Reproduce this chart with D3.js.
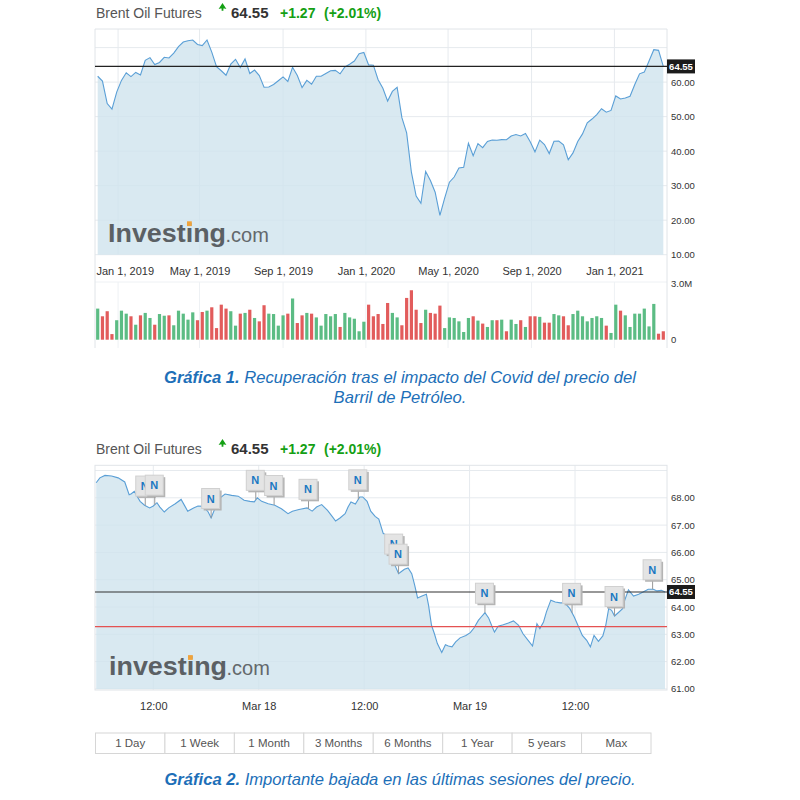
<!DOCTYPE html>
<html>
<head>
<meta charset="utf-8">
<script src="https://cdn.jsdelivr.net/npm/d3@7"></script>
<style>
  body { margin: 0; background: #fff; }
  svg { display: block; }
  text { font-family: "Liberation Sans", Arial, sans-serif; }
</style>
</head>
<body>
<svg width="800" height="800"></svg>
<script>
// ---- quote ----
const lastPrice = 64.55
const change = 1.27
const changePct = 2.01
const prevClose = 63.28

// ---- chart 1: weekly closes, Sunday-dated weeks ----
const weekStart = "2018-12-02"
const weeklyClose = [
  61.7, 60.3, 53.8, 52.2, 57.1, 60.5, 62.7, 61.6, 62.8, 62.1,
  66.3, 67.1, 65.1, 65.7, 67.2, 67.0, 68.4, 70.3, 71.6, 72.0,
  72.2, 70.9, 70.6, 72.2, 68.7, 64.5, 63.3, 62.0, 65.2, 66.6,
  64.2, 66.7, 62.5, 63.5, 61.9, 58.5, 58.6, 59.3, 60.4, 61.5,
  60.2, 64.3, 61.9, 58.4, 60.5, 59.4, 61.7, 61.7, 62.5, 63.3,
  63.4, 62.4, 64.4, 65.2, 66.1, 68.2, 68.6, 65.0, 64.9, 60.7,
  58.2, 54.5, 57.3, 58.5, 49.7, 45.3, 33.9, 27.0, 24.9, 34.1,
  31.5, 28.1, 21.4, 26.4, 31.0, 32.5, 35.1, 35.3, 42.3, 38.7,
  42.2, 41.0, 42.8, 43.24, 43.14, 43.34, 43.3, 44.4, 44.8, 44.4,
  45.1, 42.7, 39.8, 43.2, 41.9, 39.3, 42.85, 42.93, 41.8, 37.5,
  39.5, 42.8, 45.0, 48.2, 49.3, 50.6, 52.3, 51.3, 51.8, 56.0,
  55.1, 55.4, 55.9, 59.3, 62.4, 62.9, 66.1, 69.4, 69.2, 64.55
]
// volume in millions
const weeklyVolume = [
  1.66, 1.25, 1.52, 0.30, 1.04, 1.55, 1.39, 1.25, 0.80, 1.30,
  1.43, 1.16, 0.80, 1.37, 1.28, 1.30, 0.77, 1.55, 1.39, 1.07,
  1.46, 1.04, 1.48, 1.55, 1.73, 0.62, 1.87, 1.66, 1.52, 0.75,
  1.39, 1.43, 1.60, 1.16, 0.98, 1.84, 1.39, 1.37, 0.75, 1.30,
  1.39, 2.20, 0.89, 1.30, 1.43, 1.39, 1.19, 0.75, 1.37, 1.25,
  1.37, 0.68, 1.43, 1.19, 1.12, 0.45, 0.96, 1.87, 1.25, 1.37,
  0.84, 1.96, 1.43, 1.19, 0.77, 2.23, 2.64, 1.60, 0.89, 1.60,
  1.43, 1.39, 1.82, 0.62, 1.19, 1.16, 0.98, 0.41, 1.16, 1.25,
  1.02, 0.86, 0.68, 1.04, 1.04, 1.07, 0.45, 1.07, 0.84, 1.04,
  0.68, 1.25, 1.25, 1.22, 0.91, 0.91, 1.37, 1.30, 1.25, 0.77,
  1.37, 1.55, 1.25, 0.98, 1.16, 1.25, 1.16, 0.75, 0.36, 1.87,
  1.55, 1.30, 0.68, 1.39, 1.39, 1.66, 0.71, 1.91, 0.32, 0.45
]
const dateTicks1 = ["2019-01-01", "2019-05-01", "2019-09-01", "2020-01-01", "2020-05-01", "2020-09-01", "2021-01-01"]
const priceTicks1 = [10, 20, 30, 40, 50, 60]
const priceGrid1 = [10, 20, 30, 40, 50, 60, 70]
const volTicks = [0, 3]

// ---- chart 2: intraday, March 2021 (day hh:mm) ----
const dayTimes = [
  "17 05:30","17 05:55","17 06:30","17 07:15","17 08:00","17 08:45","17 09:15","17 09:30","17 09:50","17 10:05",
  "17 10:30","17 11:00","17 11:35","17 12:00","17 12:25","17 12:45","17 13:15","17 13:45","17 14:30","17 15:10",
  "17 15:30","17 15:55","17 16:35","17 17:05","17 17:40","17 18:15","17 18:35","17 19:00","17 19:30","17 20:10",
  "17 20:55","17 21:40","17 22:20","17 23:00","17 23:30","17 23:50","18 00:20","18 01:05","18 01:50","18 02:35",
  "18 03:20","18 03:50","18 04:35","18 05:30","18 06:05","18 06:35","18 07:10","18 07:50","18 08:20","18 08:45",
  "18 09:15","18 09:50","18 10:10","18 10:30","18 11:00","18 11:30","18 11:50","18 12:20","18 12:45","18 13:15",
  "18 13:40","18 14:10","18 14:40","18 14:55","18 15:10","18 15:35","18 15:55","18 16:10","18 16:35","18 17:00",
  "18 17:25","18 17:45","18 18:05","18 18:35","18 19:05","18 19:20","18 19:40","18 20:00","18 20:20","18 20:50",
  "18 21:15","18 21:35","18 22:00","18 22:25","18 22:55","18 23:35","19 00:05","19 00:30","19 01:00","19 01:25",
  "19 01:45","19 02:10","19 02:30","19 02:50","19 03:15","19 03:50","19 04:25","19 05:00","19 05:35","19 06:05",
  "19 06:40","19 07:10","19 07:40","19 08:00","19 08:25","19 08:45","19 09:15","19 09:45","19 10:20","19 10:50",
  "19 11:25","19 11:55","19 12:25","19 12:50","19 13:20","19 13:45","19 14:10","19 14:40","19 15:10","19 15:30",
  "19 15:50","19 16:10","19 16:30","19 16:55","19 17:25","19 17:40","19 18:05","19 18:40","19 19:15","19 19:45",
  "19 20:20","19 20:55","19 21:20","19 21:50","19 22:15"
]
const dayPrices = [
  68.55, 68.73, 68.82, 68.80, 68.73, 68.58, 68.11, 68.15, 68.24, 68.09,
  67.87, 67.73, 67.63, 67.70, 67.82, 67.66, 67.48, 67.63, 67.78, 67.94,
  67.75, 67.51, 67.63, 67.70, 67.69, 67.48, 67.26, 67.60, 67.97, 68.14,
  68.09, 68.06, 67.91, 67.87, 67.85, 68.00, 67.87, 67.78, 67.73, 67.60,
  67.42, 67.51, 67.57, 67.63, 67.51, 67.66, 67.75, 67.54, 67.33, 67.15,
  67.26, 67.42, 67.66, 67.85, 67.77, 68.03, 68.03, 67.87, 67.51, 67.32,
  67.22, 66.70, 66.60, 66.26, 65.77, 65.47, 65.22, 65.28, 65.38, 65.43,
  65.22, 64.80, 64.33, 64.40, 64.47, 64.06, 63.33, 63.02, 62.66, 62.33,
  62.62, 62.57, 62.54, 62.72, 62.87, 62.96, 63.06, 63.23, 63.51, 63.67,
  63.79, 63.60, 63.33, 63.08, 63.30, 63.35, 63.41, 63.49, 63.33, 63.02,
  62.78, 62.57, 63.39, 63.21, 63.45, 63.82, 64.25, 64.18, 64.15, 64.15,
  63.94, 63.63, 63.27, 62.96, 62.78, 62.54, 62.96, 62.74, 62.94, 63.33,
  63.94, 63.88, 63.67, 63.79, 63.94, 64.25, 64.63, 64.40, 64.47, 64.55,
  64.65, 64.65, 64.59, 64.61, 64.55
]
const newsTimes = ["17 11:05","17 12:10","17 18:35","17 23:40","18 01:45","18 05:40","18 11:20","18 15:25","18 15:55","19 01:45","19 11:40","19 16:30","19 20:50"]
const timeTicks2 = ["17 12:00", "18 00:00", "18 12:00", "19 00:00", "19 12:00"]
const priceTicks2 = [61, 62, 63, 64, 65, 66, 67, 68]
const priceGrid2 = [61, 62, 63, 64, 65, 66, 67, 68, 69]
const ranges = ["1 Day", "1 Week", "1 Month", "3 Months", "6 Months", "1 Year", "5 years", "Max"]

// ---- captions ----
const caption1 = ["Gráfica 1.", "Recuperación tras el impacto del Covid del precio del", "Barril de Petróleo."]
const caption2 = ["Gráfica 2.", "Importante bajada en las últimas sesiones del precio."]

const svg = d3.select("svg")
const FONT = '"Liberation Sans", Arial, sans-serif'
const GREEN = "#14a014"
const LINE = "#5a9fd6"
const FILL = "rgb(207,227,237)"
const GRID = "#e6eaee"
const BORDER = "#e0e4e8"
const BLUE = "#1d6fb8"

function header(y) {
  svg.append("text").attr("x", 96).attr("y", y).attr("font-size", 14).attr("fill", "#555").text("Brent Oil Futures")
  svg.append("path")
    .attr("d", `M218.6,${y-8.4} L222.5,${y-14.4} L226.4,${y-8.4} Q222.5,${y-10.2} 218.6,${y-8.4} Z M221.6,${y-9.8} h1.8 v3 h-1.8 Z`)
    .attr("fill", GREEN)
  svg.append("text").attr("x", 231).attr("y", y).attr("font-size", 15).attr("font-weight", "bold")
    .attr("fill", "#333").text(lastPrice.toFixed(2))
  svg.append("text").attr("x", 280).attr("y", y).attr("font-size", 14).attr("font-weight", "bold")
    .attr("fill", GREEN).text("+" + change.toFixed(2))
  svg.append("text").attr("x", 324).attr("y", y).attr("font-size", 14).attr("font-weight", "bold")
    .attr("fill", GREEN).text(`(+${changePct.toFixed(2)}%)`)
}

function priceTag(y) {
  svg.append("rect").attr("x", 667).attr("y", y - 7).attr("width", 28).attr("height", 14).attr("fill", "#1b1b1b")
  svg.append("text").attr("x", 681).attr("y", y + 3.4).attr("text-anchor", "middle")
    .attr("font-size", 9.5).attr("font-weight", "bold").attr("fill", "#fff").text(lastPrice.toFixed(2))
}

function yAxis(scale, ticks, fmt) {
  const g = svg.append("g").attr("transform", "translate(668,0)")
    .call(d3.axisRight(scale).tickValues(ticks).tickFormat(fmt).tickSize(0).tickPadding(3))
  g.select(".domain").remove()
  g.selectAll("text").attr("font-size", 9.5).attr("fill", "#333").attr("font-family", FONT)
}

// the investing.com logo sits on top of the area fill
function watermark(x, y, word) {
  const t = svg.append("text").attr("x", x).attr("y", y).attr("font-size", 26).attr("font-weight", "bold")
    .attr("fill", "#5b6064").attr("textLength", 118).attr("lengthAdjust", "spacingAndGlyphs").text(word)
  svg.append("text").attr("x", x + 117.5).attr("y", y).attr("font-size", 20).attr("fill", "#63686c").text(".com")
  const box = t.node().getExtentOfChar(word.lastIndexOf("i"))
  svg.append("rect").attr("x", box.x + box.width / 2 - 2.4).attr("y", y - 20.2)
    .attr("width", 4.8).attr("height", 4.8).attr("fill", "#f0a33c")
}

// ================= CHART 1 =================
const parseDay = d3.timeParse("%Y-%m-%d")
const w0 = parseDay(weekStart)
const weeks = weeklyClose.map((c, i) => ({
  date: d3.timeWeek.offset(w0, i),
  close: c,
  vol: weeklyVolume[i],
  up: i === 0 || c >= weeklyClose[i - 1]
}))

const x1 = d3.scaleTime().domain([weeks[0].date, weeks[weeks.length - 1].date]).range([97.7, 663.3])
const y1 = d3.scaleLinear().domain([10, 70]).range([254.7, 47.6])
const v1 = d3.scaleLinear().domain([0, 3]).range([339.7, 283.5])
const ticks1 = dateTicks1.map(parseDay)

header(17.5)

// frame + grid
const g1 = svg.append("g")
g1.selectAll(".hg").data(priceGrid1).join("line")
  .attr("x1", 95).attr("x2", 667).attr("y1", d => y1(d)).attr("y2", d => y1(d)).attr("stroke", GRID)
g1.selectAll(".vg").data(ticks1).join("line")
  .attr("x1", d => x1(d)).attr("x2", d => x1(d)).attr("y1", 29).attr("y2", 255).attr("stroke", GRID)
g1.selectAll(".vv").data(ticks1).join("line")
  .attr("x1", d => x1(d)).attr("x2", d => x1(d)).attr("y1", 282).attr("y2", 348).attr("stroke", "#eef1f4")
g1.append("line").attr("x1", 95).attr("x2", 667).attr("y1", 29).attr("y2", 29).attr("stroke", BORDER)
g1.append("line").attr("x1", 95).attr("x2", 667).attr("y1", 282).attr("y2", 282).attr("stroke", "#eef1f4")
g1.append("line").attr("x1", 95).attr("x2", 95).attr("y1", 29).attr("y2", 348).attr("stroke", BORDER)
g1.append("line").attr("x1", 667).attr("x2", 667).attr("y1", 29).attr("y2", 348).attr("stroke", BORDER)

svg.append("path").datum(weeks)
  .attr("d", d3.area().x(d => x1(d.date)).y0(y1(10)).y1(d => y1(d.close)))
  .attr("fill", FILL).attr("fill-opacity", 0.8)
watermark(108, 241.5, "Investing")
svg.append("path").datum(weeks)
  .attr("d", d3.line().x(d => x1(d.date)).y(d => y1(d.close)))
  .attr("fill", "none").attr("stroke", LINE).attr("stroke-width", 1.1)

svg.append("line").attr("x1", 95).attr("x2", 667).attr("y1", y1(lastPrice)).attr("y2", y1(lastPrice))
  .attr("stroke", "#222").attr("stroke-width", 1.2)
priceTag(y1(lastPrice))
yAxis(y1, priceTicks1, d3.format(".2f"))
yAxis(v1, volTicks, d => d ? d.toFixed(1) + "M" : "0")

// x axis labels
const gx1 = svg.append("g").attr("transform", "translate(0,267.2)")
  .call(d3.axisBottom(x1).tickValues(ticks1).tickFormat(d3.timeFormat("%b %-d, %Y")).tickSize(0).tickPadding(0))
gx1.select(".domain").remove()
gx1.selectAll("text").attr("font-size", 11).attr("fill", "#333").attr("font-family", FONT)
  .each(function (d) {
    const w = this.getComputedTextLength()
    if (x1(d) - w / 2 < 96) d3.select(this).attr("text-anchor", "start").attr("x", 96 - x1(d))
  })

// volume bars
svg.append("g").selectAll("rect").data(weeks).join("rect")
  .attr("x", d => x1(d.date) - 1.6).attr("width", 3.2)
  .attr("y", d => v1(d.vol)).attr("height", d => v1(0) - v1(d.vol))
  .attr("fill", d => d.up ? "#5cbc84" : "#e25c5c")

// ================= CHART 2 =================
const parseT = s => d3.timeParse("%Y-%m-%d %H:%M")("2021-03-" + s)
const day = dayTimes.map((t, i) => ({ t: parseT(t), v: dayPrices[i] }))
const ticks2 = timeTicks2.map(parseT)
const x2 = d3.scaleTime().domain([ticks2[0], ticks2[4]]).range([153.3, 575])
const y2 = d3.scaleLinear().domain([61, 68]).range([688.9, 497.8])

header(453.5)

const g2 = svg.append("g")
g2.selectAll(".hg").data(priceGrid2).join("line")
  .attr("x1", 95).attr("x2", 667).attr("y1", d => y2(d)).attr("y2", d => y2(d)).attr("stroke", GRID)
g2.selectAll(".vg").data(ticks2).join("line")
  .attr("x1", d => x2(d)).attr("x2", d => x2(d)).attr("y1", 465.3).attr("y2", 690).attr("stroke", GRID)
g2.append("rect").attr("x", 95).attr("y", 465.3).attr("width", 572).attr("height", 224.7)
  .attr("fill", "none").attr("stroke", BORDER)

svg.append("path").datum(day)
  .attr("d", d3.area().x(d => x2(d.t)).y0(y2(61)).y1(d => y2(d.v)))
  .attr("fill", FILL).attr("fill-opacity", 0.8)
watermark(109, 675.3, "investing")
svg.append("path").datum(day)
  .attr("d", d3.line().x(d => x2(d.t)).y(d => y2(d.v)))
  .attr("fill", "none").attr("stroke", LINE).attr("stroke-width", 1.1)

svg.append("line").attr("x1", 95).attr("x2", 667).attr("y1", y2(prevClose)).attr("y2", y2(prevClose))
  .attr("stroke", "#e45252").attr("stroke-width", 1.2)
svg.append("line").attr("x1", 95).attr("x2", 667).attr("y1", y2(lastPrice)).attr("y2", y2(lastPrice))
  .attr("stroke", "#333").attr("stroke-width", 1.1)

// news flags
const bis = d3.bisector(d => d.t).left
function valAt(t) {
  const i = bis(day, t)
  const a = day[i - 1], b = day[i]
  if (!a) return b.v
  if (!b) return a.v
  return a.v + (b.v - a.v) * (t - a.t) / (b.t - a.t)
}
newsTimes.map(parseT).forEach(t => {
  const px = x2(t), py = y2(valAt(t))
  const g = svg.append("g")
  g.append("line").attr("x1", px).attr("x2", px).attr("y1", py - 9).attr("y2", py).attr("stroke", "#999")
  g.append("rect").attr("x", px - 7.5).attr("y", py - 27.5).attr("width", 18).attr("height", 20).attr("fill", "#b4b4b4")
  g.append("rect").attr("x", px - 9.5).attr("y", py - 29.5).attr("width", 18).attr("height", 20)
    .attr("fill", "#e4e4e4").attr("stroke", "#d0d0d0")
  g.append("text").attr("x", px - 0.5).attr("y", py - 15.5).attr("text-anchor", "middle")
    .attr("font-size", 11).attr("font-weight", "bold").attr("fill", "#1a78c2").text("N")
})

priceTag(y2(lastPrice))
yAxis(y2, priceTicks2, d3.format(".2f"))

const fmtT = d => d.getHours() === 0 ? d3.timeFormat("%b %-d")(d) : d3.timeFormat("%H:%M")(d)
const gx2 = svg.append("g").attr("transform", "translate(0,702)")
  .call(d3.axisBottom(x2).tickValues(ticks2).tickFormat(fmtT).tickSize(0).tickPadding(0))
gx2.select(".domain").remove()
gx2.selectAll("text").attr("font-size", 11).attr("fill", "#333").attr("font-family", FONT)

// range buttons
const xb = d3.scaleBand().domain(ranges).range([95.5, 651])
const gb = svg.append("g")
gb.selectAll("rect").data(ranges).join("rect")
  .attr("x", d => xb(d)).attr("y", 733).attr("width", xb.bandwidth()).attr("height", 20.5)
  .attr("fill", "#fff").attr("stroke", "#d6d6d6")
gb.selectAll("text").data(ranges).join("text")
  .attr("x", d => xb(d) + xb.bandwidth() / 2).attr("y", 747.3).attr("text-anchor", "middle")
  .attr("font-size", 11.5).attr("fill", "#555").text(d => d)

// ---- captions ----
function capLine(y, bold, rest) {
  const t = svg.append("text").attr("x", 400).attr("y", y).attr("text-anchor", "middle")
    .attr("font-family", "Roboto, 'Open Sans', sans-serif").attr("font-style", "italic")
    .attr("font-size", 17).attr("fill", BLUE)
  if (bold) t.append("tspan").attr("font-weight", "bold").text(bold + " ")
  t.append("tspan").text(rest)
  return t
}
const c1 = capLine(382.7, caption1[0], caption1[1])
const c2 = capLine(402.7, null, caption1[2])
const c3 = capLine(784.5, caption2[0], caption2[1])
const k = 472 / c1.node().getComputedTextLength()
;[c1, c2, c3].forEach(t => {
  const w = t.node().getComputedTextLength()
  t.attr("textLength", w * k).attr("lengthAdjust", "spacingAndGlyphs")
})
</script>
</body>
</html>
